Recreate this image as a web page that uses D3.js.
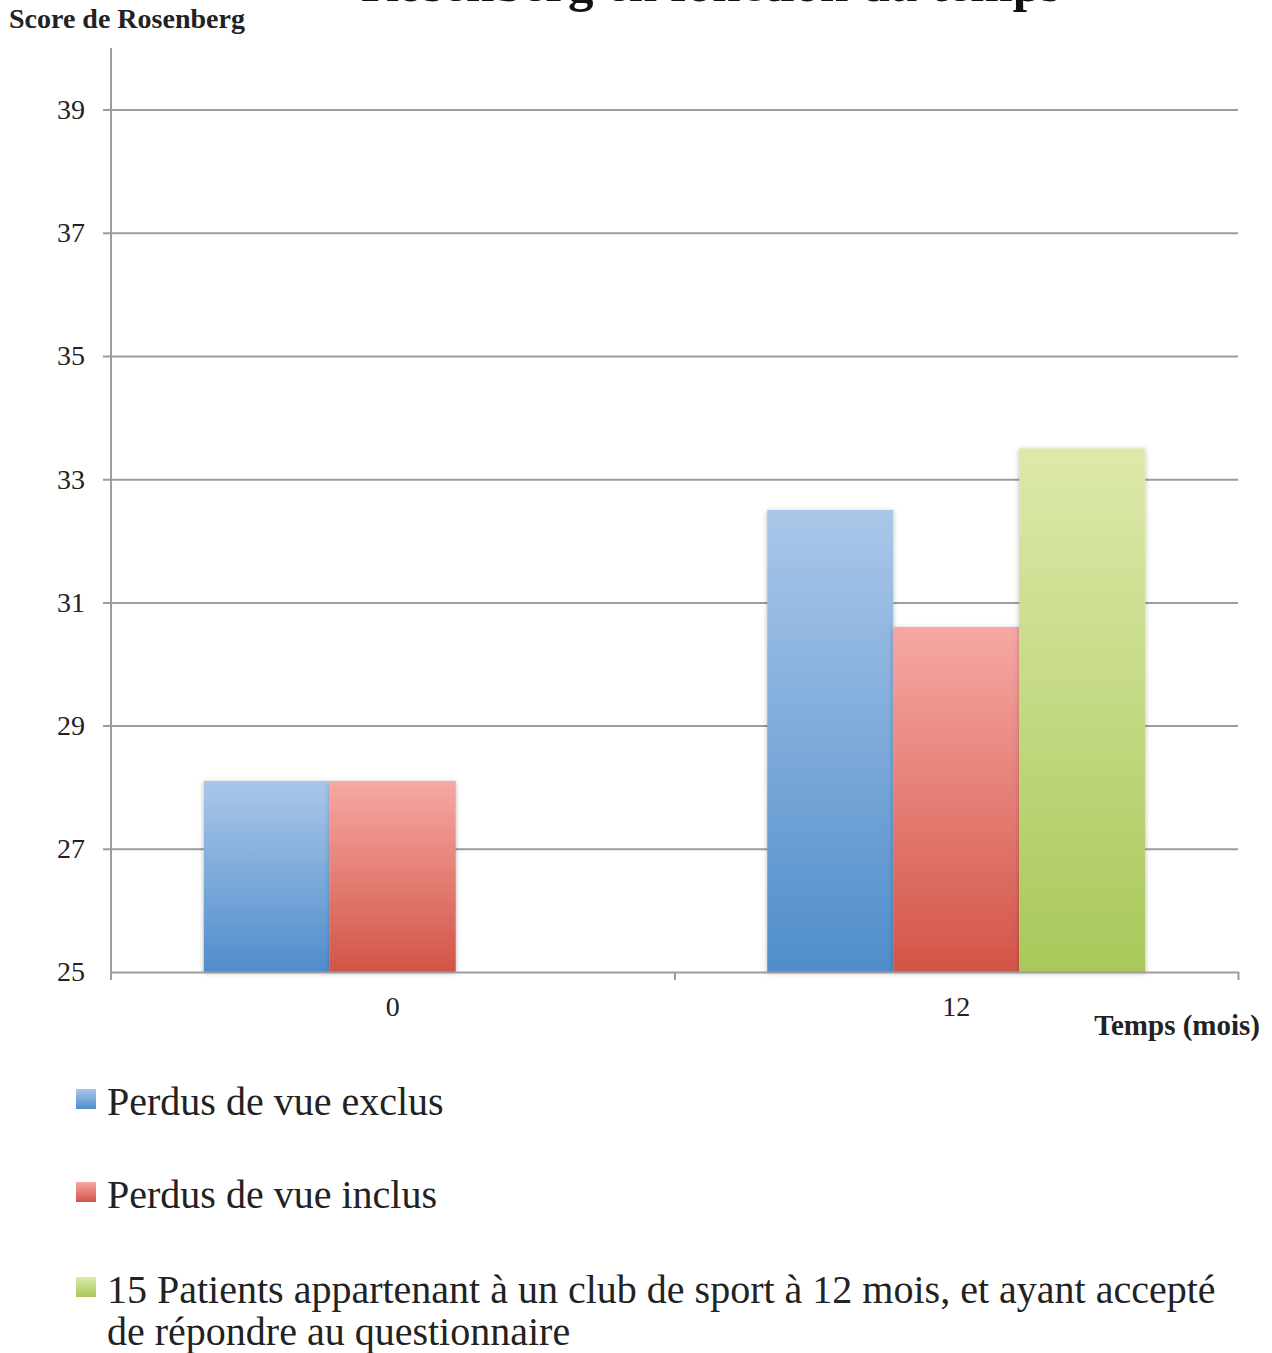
<!DOCTYPE html>
<html>
<head>
<meta charset="utf-8">
<script src="https://cdn.jsdelivr.net/npm/d3@7"></script>
<style>
  body { margin: 0; background: #fff; }
  svg { display: block; font-family: "Liberation Serif", serif; }
</style>
</head>
<body>
<svg id="chart"></svg>
<script>
const categories = ["0", "12"];
const seriesNames = [
  "Perdus de vue exclus",
  "Perdus de vue inclus",
  "15 Patients appartenant à un club de sport à 12 mois, et ayant accepté de répondre au questionnaire"
];
const exclus = [28.1, 32.5];
const inclus = [28.1, 30.6];
const club = [null, 33.5];
const yTicks = [25, 27, 29, 31, 33, 35, 37, 39];

const colors = [
  ["#aac7e9", "#4f8dcb"],
  ["#f6a8a3", "#d35447"],
  ["#dde9aa", "#a9c85a"]
];

const width = 1272;
const height = 1353;
const plotLeft = 111, plotRight = 1238, plotTop = 48, plotBottom = 972;

const svg = d3.select('#chart')
    .attr('width', width)
    .attr('height', height);

const defs = svg.append('defs');
colors.forEach((c, i) => {
  const g = defs.append('linearGradient')
      .attr('id', 'grad' + i)
      .attr('x1', 0).attr('y1', 0).attr('x2', 0).attr('y2', 1);
  g.append('stop').attr('offset', '0%').attr('stop-color', c[0]);
  g.append('stop').attr('offset', '100%').attr('stop-color', c[1]);
});
const shadow = defs.append('filter').attr('id', 'shadow')
    .attr('x', '-10%').attr('y', '-10%').attr('width', '120%').attr('height', '120%');
shadow.append('feDropShadow')
    .attr('dx', 0).attr('dy', 1).attr('stdDeviation', 2.5)
    .attr('flood-color', '#000').attr('flood-opacity', 0.28);

const x = d3.scaleBand().domain(categories).range([plotLeft, plotRight]);
const x1 = d3.scaleBand().domain(d3.range(3)).range([0, x.bandwidth()]).paddingOuter(0.736);
const y = d3.scaleLinear().domain([25, 40]).range([plotBottom, plotTop]);

// gridlines
svg.append('g')
    .attr('transform', 'translate(' + (plotLeft - 8) + ',0)')
    .call(d3.axisRight(y).tickValues(yTicks.slice(1)).tickSize(plotRight - plotLeft + 8).tickFormat(''))
    .call(g => g.select('.domain').remove())
    .call(g => g.selectAll('line').attr('stroke', '#9d9d9d').attr('stroke-width', 2));

// bars
const rows = categories.map((c, i) => [exclus[i], inclus[i], club[i]]);
const groups = svg.append('g').selectAll('g')
  .data(rows)
  .enter().append('g')
    .attr('transform', (d, i) => 'translate(' + x(categories[i]) + ',0)');

groups.selectAll('rect')
  .data(d => d.map((v, s) => ({ v: v, s: s })).filter(d => d.v != null))
  .enter().append('rect')
    .attr('x', d => x1(d.s))
    .attr('y', d => y(d.v))
    .attr('width', x1.bandwidth())
    .attr('height', d => y(25) - y(d.v))
    .attr('fill', d => 'url(#grad' + d.s + ')')
    .attr('filter', 'url(#shadow)');

// x axis baseline and ticks
const xEdge = d3.scaleLinear().domain([0, 2]).range([plotLeft, plotRight]);
svg.append('g')
    .attr('transform', 'translate(0,' + plotBottom + ')')
    .call(d3.axisBottom(xEdge).tickValues([1, 2]).tickSize(8).tickSizeOuter(0).tickFormat(''))
    .call(g => g.select('.domain').attr('stroke', '#9d9d9d').attr('stroke-width', 2))
    .call(g => g.selectAll('line').attr('stroke', '#9d9d9d').attr('stroke-width', 2));

svg.append('g')
    .attr('transform', 'translate(0,' + plotBottom + ')')
    .call(d3.axisBottom(x).tickSize(0).tickPadding(24))
    .call(g => g.select('.domain').remove())
    .call(g => g.selectAll('text')
      .attr('font-family', '"Liberation Serif", serif')
      .attr('font-size', 28).attr('fill', '#222'));

// y axis
svg.append('line')
    .attr('x1', plotLeft).attr('x2', plotLeft)
    .attr('y1', plotTop).attr('y2', plotBottom + 8)
    .attr('stroke', '#9d9d9d').attr('stroke-width', 2);

svg.append('g')
    .attr('transform', 'translate(' + plotLeft + ',0)')
    .call(d3.axisLeft(y).tickValues(yTicks).tickSize(0).tickPadding(26))
    .call(g => g.select('.domain').remove())
    .call(g => g.selectAll('text')
      .attr('font-family', '"Liberation Serif", serif')
      .attr('font-size', 28).attr('fill', '#222'));

// titles
svg.append('text')
    .attr('x', 711).attr('y', 1)
    .attr('text-anchor', 'middle')
    .attr('font-size', 51).attr('font-weight', 'bold').attr('fill', '#111')
    .text('Rosenberg en fonction du temps');

svg.append('text')
    .attr('x', 9).attr('y', 28)
    .attr('font-size', 28).attr('font-weight', 'bold').attr('fill', '#222')
    .text('Score de Rosenberg');

svg.append('text')
    .attr('x', 1260).attr('y', 1035)
    .attr('text-anchor', 'end')
    .attr('font-size', 29).attr('font-weight', 'bold').attr('fill', '#222')
    .text('Temps (mois)');

// legend
const legendY = [1115, 1208, 1303];
const legend = svg.append('g').selectAll('g')
  .data(seriesNames)
  .enter().append('g')
    .attr('transform', (d, i) => 'translate(76,' + legendY[i] + ')');

legend.append('rect')
    .attr('x', 0).attr('y', -26)
    .attr('width', 20).attr('height', 20)
    .attr('fill', (d, i) => 'url(#grad' + i + ')');

legend.append('text')
    .attr('font-size', 40).attr('fill', '#222')
    .each(function(d) {
      const cut = d.indexOf('accepté');
      const lines = cut > 0 ? [d.slice(0, cut + 7), d.slice(cut + 8)] : [d];
      d3.select(this).selectAll('tspan')
        .data(lines)
        .enter().append('tspan')
          .attr('x', 31)
          .attr('dy', (l, j) => j ? 42 : 0)
          .text(l => l);
    });
</script>
</body>
</html>
